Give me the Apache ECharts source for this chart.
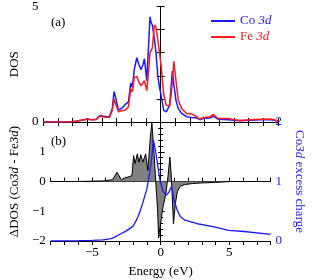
<!DOCTYPE html>
<html>
<head>
<meta charset="utf-8">
<script src="https://cdn.jsdelivr.net/npm/echarts@6/dist/echarts.min.js"></script>
<style>html,body{margin:0;padding:0;background:#fff}#c{width:314px;height:280px}</style>
</head>
<body>
<div id="c"></div>
<script>
// ---- data ----
var energyDos = [-8, -7, -6.2, -5.8, -5.4, -5.0, -4.7, -4.4, -4.15, -3.9, -3.5, -3.3, -3.18, -3.05, -2.88, -2.65, -2.43, -2.2, -2.04, -1.93, -1.8, -1.63, -1.5, -1.34, -1.2, -1.11, -0.95, -0.85, -0.73, -0.65, -0.57, -0.43, -0.32, -0.2, -0.08, 0.03, 0.2, 0.38, 0.5, 0.61, 0.72, 0.79, 0.9, 0.97, 1.04, 1.2, 1.43, 1.77, 2.1, 2.44, 2.67, 2.9, 3.35, 3.58, 3.9, 4.6, 5.4, 6.1, 6.8, 7.5, 8];
var coDos = [0, 0, 0, 0.03, 0.08, 0.13, 0.1, 0.12, 0.28, 0.25, 0.22, 0.6, 1.32, 1.0, 0.51, 0.6, 0.75, 0.87, 1.69, 1.5, 2.28, 2.78, 2.5, 2.26, 2.5, 2.74, 1.79, 3.0, 4.55, 4.3, 4.2, 3.6, 3.0, 2.0, 1.5, 1.15, 0.51, 0.44, 0.5, 0.72, 1.6, 2.2, 1.6, 1.29, 0.94, 0.58, 0.37, 0.23, 0.2, 0.18, 0.1, 0.15, 0.17, 0.25, 0.12, 0.1, 0.05, 0.08, 0.1, 0.1, 0.04];
var feDos = [0, 0, 0, 0.03, 0.08, 0.12, 0.1, 0.1, 0.26, 0.22, 0.2, 0.5, 1.0, 0.75, 0.44, 0.5, 0.51, 0.65, 1.43, 1.3, 1.93, 1.97, 1.75, 1.57, 1.7, 1.79, 1.36, 2.0, 3.0, 3.1, 3.2, 4.2, 4.1, 3.56, 3.0, 2.43, 1.22, 0.72, 0.68, 0.7, 1.2, 1.72, 2.63, 2.2, 1.79, 0.94, 0.58, 0.37, 0.35, 0.23, 0.12, 0.2, 0.22, 0.33, 0.15, 0.15, 0.06, 0.1, 0.12, 0.13, 0.05];

var energyDelta = [-8, -6, -5, -4.2, -3.5, -3.18, -2.86, -2.63, -2.3, -2.09, -1.97, -1.86, -1.7, -1.58, -1.45, -1.3, -1.09, -0.93, -0.75, -0.64, -0.48, -0.36, -0.23, -0.15, 0.0, 0.15, 0.38, 0.53, 0.67, 0.78, 0.93, 1.07, 1.22, 1.45, 1.8, 2.3, 2.9, 4.0, 5.1, 8];
var deltaDos = [0, 0, 0.01, 0.02, 0.06, 0.31, 0.06, 0.12, 0.16, 0.2, 0.87, 0.6, 0.93, 0.65, 0.9, 0.65, 0.93, 0.37, 1.49, 1.97, 0.93, 0, -0.9, -1.9, -1.4, -0.9, -0.41, 0.15, 0.82, 0.15, -1.42, -0.75, -0.33, -0.15, -0.1, -0.07, -0.05, -0.03, 0, 0];

var energyCharge = [-8, -6, -5, -4.2, -3.6, -3.3, -3.0, -2.5, -2.0, -1.7, -1.5, -1.3, -1.0, -0.8, -0.65, -0.54, -0.45, -0.27, -0.05, 0.18, 0.41, 0.6, 0.77, 0.85, 0.97, 1.2, 1.43, 1.77, 2.67, 3.8, 4.94, 6.07, 8];
var excessCharge = [0, 0.005, 0.01, 0.02, 0.04, 0.07, 0.11, 0.17, 0.25, 0.38, 0.5, 0.64, 0.88, 1.15, 1.4, 1.7, 1.62, 1.36, 1.02, 0.83, 0.77, 0.82, 0.91, 0.85, 0.69, 0.52, 0.41, 0.35, 0.29, 0.24, 0.18, 0.16, 0.11];

var xTickLabels = [-5, 0, 5];
var dosTickLabels = [0, 5];
var deltaTickLabels = [-2, -1, 0, 1];
var chargeTickLabels = [0, 1, 2];

function pairs(xs, ys) { return xs.map(function (x, i) { return [x, ys[i]]; }); }
function fmt(v) { return v < 0 ? '\u2212' + (-v) : String(v); }
function only(list) { return function (v) { return list.indexOf(Math.round(v * 1000) / 1000) >= 0 ? fmt(v) : ''; }; }

var FONT = 'Liberation Serif';
var FS = 13;
var tick = { show: true, inside: true, length: 4, lineStyle: { color: '#000', width: 1 } };
var minor = function (n) { return { show: true, splitNumber: n, length: 2.5, lineStyle: { color: '#000', width: 1 } }; };
var line = { show: true, lineStyle: { color: '#000', width: 1 } };
var lbl = { fontFamily: FONT, fontSize: FS, color: '#000' };

function xAx(grid, pos, labels, name) {
  var a = {
    type: 'value', gridIndex: grid, position: pos, min: -8, max: 8, interval: 1,
    axisLine: line, axisTick: tick, splitLine: { show: false },
    axisLabel: labels ? Object.assign({ formatter: only(xTickLabels), margin: 5 }, lbl) : { show: false }
  };
  if (name) {
    a.name = name; a.nameLocation = 'middle'; a.nameGap = 24;
    a.nameTextStyle = { fontFamily: FONT, fontSize: FS, color: '#000' };
  }
  return a;
}

var chart = echarts.init(document.getElementById('c'), null, { renderer: 'canvas' });
chart.setOption({
  animation: false,
  textStyle: { fontFamily: FONT },
  grid: [
    { left: 42, right: 36, top: 5, height: 117 },
    { left: 42, right: 36, top: 122, height: 119 }
  ],
  xAxis: [
    xAx(0, 'bottom', false),
    xAx(0, 'top', false),
    xAx(1, 'bottom', true, 'Energy (eV)'),
    xAx(1, 'top', false)
  ],
  yAxis: [
    {
      type: 'value', gridIndex: 0, position: 'left', min: 0, max: 5, interval: 1,
      axisLine: line, axisTick: tick, splitLine: { show: false },
      axisLabel: Object.assign({ formatter: only(dosTickLabels), margin: 5, showMinLabel: true, showMaxLabel: true }, lbl),
      name: 'DOS', nameLocation: 'middle', nameGap: 10, nameRotate: 90,
      nameTextStyle: { fontFamily: FONT, fontSize: FS, color: '#000' }
    },
    {
      type: 'value', gridIndex: 0, position: 'right', min: 0, max: 5, interval: 1,
      axisLine: line, axisTick: tick, splitLine: { show: false }, axisLabel: { show: false }
    },
    {
      type: 'value', gridIndex: 1, position: 'left', min: -2, max: 2, interval: 1,
      axisLine: line, axisTick: tick, minorTick: minor(5), splitLine: { show: false },
      axisLabel: Object.assign({ formatter: only(deltaTickLabels), margin: 5 }, lbl),
      name: '\u0394DOS (Co{i|3d} - Fe{i|3d})', nameLocation: 'middle', nameGap: 27, nameRotate: 90,
      nameTextStyle: { fontFamily: FONT, fontSize: FS, color: '#000',
        rich: { i: { fontFamily: FONT, fontSize: FS, fontStyle: 'italic', color: '#000' } } }
    },
    {
      type: 'value', gridIndex: 1, position: 'right', min: 0, max: 2, interval: 1,
      axisLine: line, axisTick: tick, minorTick: minor(10), splitLine: { show: false },
      axisLabel: Object.assign({}, lbl, { formatter: only(chargeTickLabels), margin: 5, color: '#1a1aff' }),
      name: 'Co{i|3d} excess charge', nameLocation: 'middle', nameGap: 22, nameRotate: -90,
      nameTextStyle: { fontFamily: FONT, fontSize: FS, color: '#1a1aff',
        rich: { i: { fontFamily: FONT, fontSize: FS, fontStyle: 'italic', color: '#1a1aff' } } }
    }
  ],
  legend: {
    orient: 'vertical', left: 206, top: 9, itemWidth: 24, itemHeight: 2, itemGap: 2,
    icon: 'rect',
    data: [
      { name: 'Co 3d', textStyle: { color: '#1a1aff' } },
      { name: 'Fe 3d', textStyle: { color: '#ff1a1a' } }
    ],
    formatter: function (n) { var p = n.split(' '); return p[0] + ' {i|' + p[1] + '}'; },
    textStyle: { fontFamily: FONT, fontSize: FS, lineHeight: 14,
      rich: { i: { fontFamily: FONT, fontSize: FS, fontStyle: 'italic' } } }
  },
  graphic: [
    { type: 'text', left: 51, top: 16, style: { text: '(a)', fontFamily: FONT, fontSize: FS, fill: '#000' } },
    { type: 'text', left: 51, top: 135, style: { text: '(b)', fontFamily: FONT, fontSize: FS, fill: '#000' } }
  ],
  series: [
    { name: 'Co 3d', type: 'line', xAxisIndex: 0, yAxisIndex: 0, data: pairs(energyDos, coDos),
      showSymbol: false, symbol: 'none', itemStyle: { color: '#1a1aff' }, lineStyle: { color: '#1a1aff', width: 1.5 } },
    { name: 'Fe 3d', type: 'line', xAxisIndex: 0, yAxisIndex: 0, data: pairs(energyDos, feDos),
      showSymbol: false, symbol: 'none', itemStyle: { color: '#ff1a1a' }, lineStyle: { color: '#ff1a1a', width: 1.5 } },
    { name: 'delta', type: 'line', xAxisIndex: 2, yAxisIndex: 2, data: pairs(energyDelta, deltaDos),
      showSymbol: false, symbol: 'none', lineStyle: { color: '#000', width: 1 },
      areaStyle: { color: '#808080', opacity: 1, origin: 0 } },
    { name: 'charge', type: 'line', xAxisIndex: 2, yAxisIndex: 3, data: pairs(energyCharge, excessCharge),
      showSymbol: false, symbol: 'none', lineStyle: { color: '#1a1aff', width: 1.3 } }
  ]
});
</script>
</body>
</html>
